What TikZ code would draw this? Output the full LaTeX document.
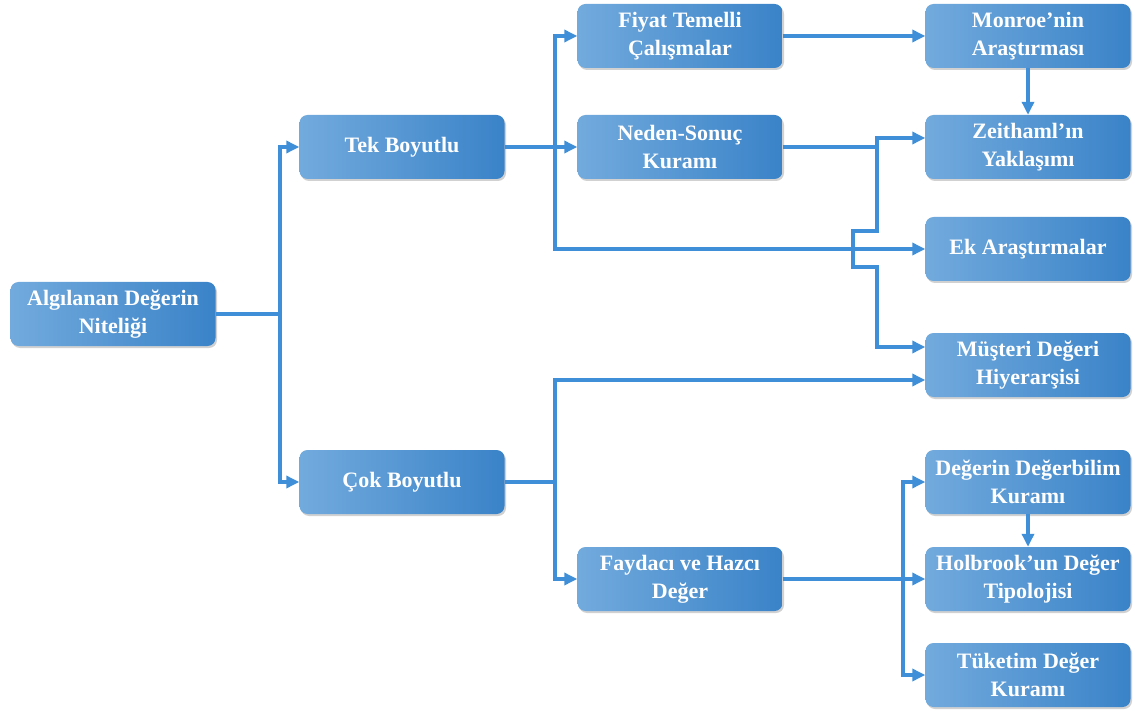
\documentclass[tikz,border=0pt]{standalone}
\usepackage{fontspec}
\setmainfont{Liberation Serif}
\usetikzlibrary{arrows.meta,shadows}
\definecolor{boxlight}{HTML}{72AADD}
\definecolor{boxdark}{HTML}{3A83C8}
\definecolor{linkblue}{HTML}{3F8FD8}
\tikzset{
  box/.style={rectangle, rounded corners=8pt, minimum width=205pt, minimum height=64pt,
    left color=boxlight, right color=boxdark, draw=none, text=white, align=center,
    font=\fontsize{22}{28}\selectfont\bfseries,
    drop shadow={shadow xshift=1.5pt, shadow yshift=-2pt, opacity=0.3, fill=black!60}},
  link/.style={draw=linkblue, line width=3.3pt},
  arr/.style={link, -{Triangle[length=13pt,width=12pt]}}
}
\begin{document}
\begin{tikzpicture}[x=1pt,y=-1pt]
\useasboundingbox (0,0) rectangle (1135,711);
% boxes
\node[box] (root)   at (113,314)  {Algılanan Değerin\\Niteliği};
\node[box] (tek)    at (402,147)  {Tek Boyutlu};
\node[box] (cok)    at (402,482)  {Çok Boyutlu};
\node[box] (fiyat)  at (680,36)   {Fiyat Temelli\\Çalışmalar};
\node[box] (neden)  at (680,147)  {Neden-Sonuç\\Kuramı};
\node[box] (fayda)  at (680,579)  {Faydacı ve Hazcı\\Değer};
\node[box] (monroe) at (1028,36)  {Monroe’nin\\Araştırması};
\node[box] (zeit)   at (1028,147) {Zeithaml’ın\\Yaklaşımı};
\node[box] (ek)     at (1028,249) {Ek Araştırmalar};
\node[box] (must)   at (1028,365) {Müşteri Değeri\\Hiyerarşisi};
\node[box] (degb)   at (1028,482) {Değerin Değerbilim\\Kuramı};
\node[box] (holb)   at (1028,579) {Holbrook’un Değer\\Tipolojisi};
\node[box] (tuk)    at (1028,675) {Tüketim Değer\\Kuramı};
% junction points
\coordinate (j1) at (280,314);
\coordinate (j2) at (555,147);
\coordinate (j3) at (877,147);
\coordinate (j4) at (555,482);
\coordinate (j5) at (903,579);
\coordinate (b1) at (877,231);
\coordinate (b2) at (853,231);
\coordinate (b3) at (853,267);
\coordinate (b4) at (877,267);
% root to the two branches
\draw[link] (root.east) -- (j1);
\draw[arr] (j1) |- (tek.west);
\draw[arr] (j1) |- (cok.west);
% single-dimension branch
\draw[link] (tek.east) -- (j2);
\draw[arr] (j2) |- (fiyat.west);
\draw[arr] (j2) -- (neden.west);
\draw[arr] (j2) |- (ek.west);
\draw[arr] (fiyat.east) -- (monroe.west);
\draw[arr] (monroe.south) -- (zeit.north);
\draw[link] (neden.east) -- (j3);
\draw[arr] (j3) |- ([yshift=9pt]zeit.west);
\draw[arr] (j3) -- (b1) -- (b2) -- (b3) -- (b4) |- ([yshift=18pt]must.west);
% multi-dimension branch
\draw[link] (cok.east) -- (j4);
\draw[arr] (j4) |- ([yshift=-15pt]must.west);
\draw[arr] (j4) |- (fayda.west);
\draw[arr] (fayda.east) -- (holb.west);
\draw[arr] (j5) |- (degb.west);
\draw[arr] (j5) |- (tuk.west);
\draw[arr] (degb.south) -- (holb.north);
\end{tikzpicture}
\end{document}
